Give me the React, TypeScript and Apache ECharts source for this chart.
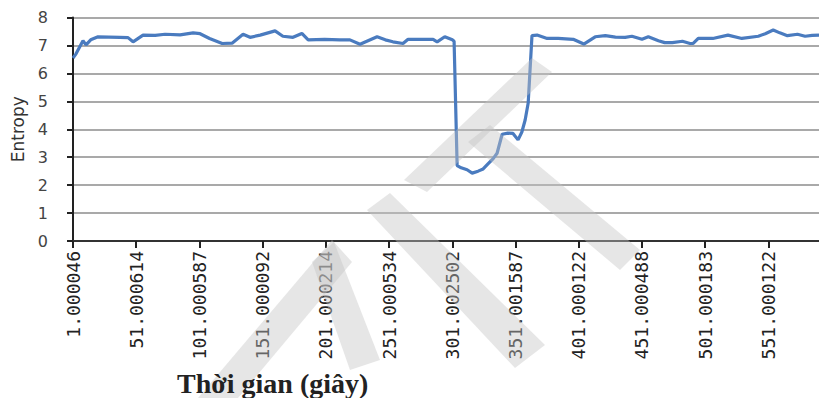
import React, { useEffect, useRef } from "react";
import * as echarts from "echarts";

// Tick labels of the time axis (one every 50 samples)
const tickLabels = [
  "1.000046", "51.000614", "101.000587", "151.000092", "201.000214", "251.000534",
  "301.002502", "351.001587", "401.000122", "451.000488", "501.000183", "551.000122",
];

// Sample index (0-based) and entropy value
const sampleIndex = [
  0, 2.4, 7.9, 10.3, 14, 19.8, 37, 43.5, 47.5, 55.4, 65, 72.8, 84.7, 95, 100.5,
  108, 118, 125.8, 134.5, 140, 148, 159.8, 166, 174, 181, 186, 199, 211, 219, 227,
  240.5, 247, 253, 261, 265, 274.5, 284.8, 288, 294, 300, 301.4, 303.8, 307, 311.7,
  315.7, 320.4, 324.4, 328, 332.3, 335.4, 339.4, 344, 348, 352, 355, 357.6, 360,
  363, 367, 375, 383.7, 395.6, 404, 413, 421, 429, 436.7, 442, 450, 455, 463, 468,
  474, 482, 488, 490.5, 494.5, 506, 518, 529, 542, 547.5, 553.8, 559, 565, 573,
  579, 584.6, 590,
];
const entropy = [
  6.55, 6.7, 7.17, 7.02, 7.2, 7.31, 7.29, 7.28, 7.13, 7.37, 7.36, 7.4, 7.38, 7.45, 7.42,
  7.25, 7.07, 7.08, 7.4, 7.29, 7.37, 7.52, 7.33, 7.29, 7.43, 7.2, 7.22, 7.2, 7.2, 7.04,
  7.31, 7.2, 7.13, 7.07, 7.22, 7.22, 7.22, 7.13, 7.31, 7.2, 7.15, 2.7, 2.62, 2.55,
  2.43, 2.5, 2.58, 2.75, 2.95, 3.14, 3.82, 3.86, 3.85, 3.62, 3.9, 4.33, 4.94,
  7.35, 7.37, 7.25, 7.25, 7.22, 7.05, 7.31, 7.35, 7.3, 7.29, 7.33, 7.22, 7.31, 7.17, 7.1,
  7.1, 7.15, 7.07, 7.07, 7.25, 7.25, 7.37, 7.25, 7.33, 7.42, 7.55, 7.45, 7.35, 7.4,
  7.33, 7.36, 7.37,
];

const yTicks = [0, 8, 1]; // min, max, interval
const xAxisTitle = "Thời gian (giây)";
const yAxisTitle = "Entropy";

export default function App() {
  const ref = useRef<HTMLDivElement>(null);
  useEffect(() => {
    if (!ref.current) return;
    const chart = echarts.init(ref.current, null, { renderer: "svg" });
    const wm = "rgba(195,195,195,0.42)";
    chart.setOption({
      animation: false,
      backgroundColor: "#ffffff",
      grid: { left: 73, right: 0, top: 17.5, bottom: 157, outerBoundsMode: "none" },
      title: {
        text: xAxisTitle,
        left: 172,
        top: 364,
        z: 200,
        textStyle: { fontFamily: "Liberation Serif", fontWeight: "bold", fontSize: 28, color: "#222" },
      },
      xAxis: {
        type: "value",
        min: 0,
        max: 590,
        interval: 50,
        splitLine: { show: false },
        axisLine: { show: true, lineStyle: { color: "#333", width: 2 } },
        axisTick: { show: true, length: 7, lineStyle: { color: "#222", width: 2 } },
        axisLabel: {
          rotate: 90,
          margin: 10,
          fontFamily: "DejaVu Sans Mono",
          fontSize: 18,
          color: "#222",
          showMaxLabel: false,
          formatter: (v: number) => (v % 50 === 0 && tickLabels[v / 50]) ? tickLabels[v / 50] : "",
        },
      },
      yAxis: {
        type: "value",
        min: yTicks[0],
        max: yTicks[1],
        interval: yTicks[2],
        name: yAxisTitle,
        nameLocation: "middle",
        nameGap: 47,
        nameTextStyle: { fontFamily: "DejaVu Sans", fontSize: 17, color: "#333" },
        axisLine: { show: true, lineStyle: { color: "#222", width: 2 } },
        axisTick: { show: true, length: 6, lineStyle: { color: "#222", width: 2 } },
        axisLabel: { fontFamily: "DejaVu Sans", fontSize: 16, color: "#444", margin: 25 },
        splitLine: { show: true, lineStyle: { color: "#8c8c8c", width: 1.5 } },
      },
      series: [
        {
          type: "line",
          data: sampleIndex.map((x, i) => [x, entropy[i]]),
          showSymbol: false,
          lineStyle: { color: "#4a7bbf", width: 3.2 },
          itemStyle: { color: "#4a7bbf" },
        },
      ],
      graphic: [
        { type: "polygon", z: 100, silent: true, shape: { points: [[198, 398], [238, 398], [352, 262], [332, 240]] }, style: { fill: wm } },
        { type: "polygon", z: 100, silent: true, shape: { points: [[312, 262], [334, 242], [380, 360], [350, 370]] }, style: { fill: wm } },
        { type: "polygon", z: 100, silent: true, shape: { points: [[367, 210], [390, 193], [545, 345], [515, 368]] }, style: { fill: wm } },
        { type: "polygon", z: 100, silent: true, shape: { points: [[404, 180], [427, 192], [552, 72], [532, 58]] }, style: { fill: wm } },
        { type: "polygon", z: 100, silent: true, shape: { points: [[468, 142], [490, 125], [640, 250], [620, 270]] }, style: { fill: wm } },
      ],
    });
    return () => chart.dispose();
  }, []);
  return <div ref={ref} style={{ position: "absolute", left: 0, top: 0, width: 819, height: 398 }} />;
}
